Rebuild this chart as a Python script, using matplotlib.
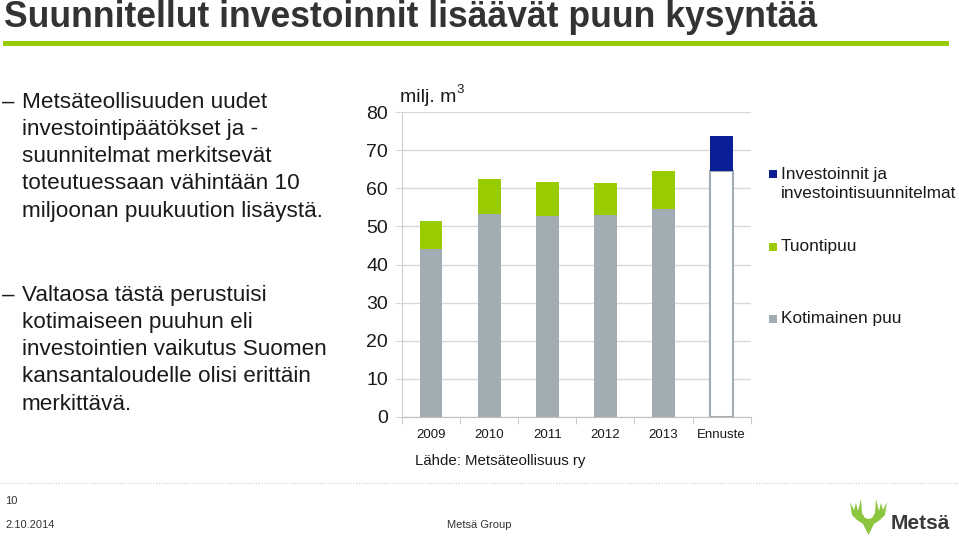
import numpy as np
import matplotlib
matplotlib.use("Agg")
from matplotlib import pyplot as plt
from matplotlib.patches import Rectangle, Polygon

plt.rcParams['font.family'] = ['Liberation Sans', 'DejaVu Sans']

# data (milj. m3)
categories = ['2009', '2010', '2011', '2012', '2013', 'Ennuste']
kotimainen = [44.1, 53.2, 52.7, 52.9, 54.5]
tuonti = [7.3, 9.4, 9.0, 8.6, 10.1]
ennuste_pohja = 64.6
investoinnit = 9.2
series_names = ['Investoinnit ja\ninvestointisuunnitelmat', 'Tuontipuu', 'Kotimainen puu']

c_gray = '#A2ACB3'
c_green = '#99CC00'
c_blue = '#0A1E96'
c_text = '#1a1a1a'

W, H = 959, 536
fig = plt.figure(figsize=(W / 100, H / 100), dpi=100)

def fx(px):
    return px / W

def fy(py):
    return 1 - py / H

# title + green bar
fig.text(fx(4), fy(27), 'Suunnitellut investoinnit lisäävät puun kysyntää',
         fontweight='bold', fontsize=25.6, color='#333333', va='baseline', ha='left')
fig.add_artist(Rectangle((fx(3), fy(46)), fx(946), 4.5 / H, color=c_green, lw=0))

# bullet texts
block1 = ['Metsäteollisuuden uudet', 'investointipäätökset ja -', 'suunnitelmat merkitsevät',
          'toteutuessaan vähintään 10', 'miljoonan puukuution lisäystä.']
block2 = ['Valtaosa tästä perustuisi', 'kotimaiseen puuhun eli', 'investointien vaikutus Suomen',
          'kansantaloudelle olisi erittäin', 'merkittävä.']
for start, lines in [(102, block1), (295, block2)]:
    fig.text(fx(2), fy(start), '–', fontsize=16, color=c_text, va='center', ha='left')
    for i, line in enumerate(lines):
        fig.text(fx(22), fy(start + i * 27.3), line, fontsize=16.2, color=c_text,
                 va='center', ha='left')

# chart
ax = fig.add_axes([fx(402), fy(416.7), fx(750.7 - 402), (416.7 - 112.3) / H])
x = np.arange(len(categories))
bw = 0.39
n = len(kotimainen)
ax.bar(x[:n], kotimainen, bw, color=c_gray, zorder=3)
ax.bar(x[:n], tuonti, bw, bottom=kotimainen, color=c_green, zorder=3)
ax.bar(x[n], ennuste_pohja, bw, color='white', edgecolor=c_gray, lw=1.5, zorder=3)
ax.bar(x[n], investoinnit, bw, bottom=ennuste_pohja, color=c_blue, zorder=3)

ax.set_xlim(-0.5, len(categories) - 0.5)
ax.set_ylim(0, 80)
ax.set_yticks(np.arange(0, 81, 10))
ax.yaxis.grid(True, color='#D9D9D9', lw=1, zorder=0)
ax.tick_params(axis='y', length=5, color='#D9D9D9', pad=5, labelsize=14, labelcolor=c_text)
ax.set_xticks(x)
ax.set_xticklabels(categories)
ax.tick_params(axis='x', which='major', length=0, pad=9, labelsize=9.5, labelcolor=c_text)
ax.set_xticks(np.arange(-0.5, len(categories), 1), minor=True)
ax.tick_params(axis='x', which='minor', length=5, color='#BFBFBF')
for s in ['top', 'right']:
    ax.spines[s].set_visible(False)
ax.spines['left'].set_color('#D0D0D0')
ax.spines['bottom'].set_color('#BFBFBF')

fig.text(fx(400), fy(97), 'milj. m', fontsize=14, color=c_text, va='center', ha='left')
fig.text(fx(456), fy(90), '3', fontsize=9.5, color=c_text, va='center', ha='left')
fig.text(fx(415), fy(461), 'Lähde: Metsäteollisuus ry', fontsize=10.8, color=c_text,
         va='center', ha='left')

# legend (drawn by hand to keep the wide spacing of the original)
leg_colors = [c_blue, c_green, c_gray]
leg_y = [174, 247, 319]
for name, col, ly in zip(series_names, leg_colors, leg_y):
    fig.add_artist(Rectangle((fx(769), fy(ly + 4)), 8 / W, 8 / H, color=col, lw=0))
    for k, part in enumerate(name.split('\n')):
        fig.text(fx(781), fy(ly + k * 20), part, fontsize=12.4, color=c_text,
                 va='center', ha='left')

# footer
fig.add_artist(plt.Line2D([0, 1], [fy(483), fy(483)], color='#C8C8C8', lw=0.8, ls=(0, (1, 1.5))))
fig.text(fx(5), fy(501), '10', fontsize=8, color='#333333', va='center', ha='left')
fig.text(fx(5), fy(525), '2.10.2014', fontsize=8, color='#333333', va='center', ha='left')
fig.text(fx(447), fy(525), 'Metsä Group', fontsize=8, color='#333333', va='center', ha='left')

# logo
lax = fig.add_axes([fx(845), 0, fx(114), 44 / H])
lax.set_xlim(845, 959)
lax.set_ylim(536, 492)
lax.axis('off')
cx = 868.5
left_half = [(cx, 535), (866, 530), (863, 524), (857, 520), (852, 515), (850, 502),
             (854, 510), (856, 503), (858, 511), (861, 499), (862, 513), (865, 518), (cx, 519)]
right_half = [(2 * cx - px, py) for px, py in reversed(left_half[1:-1])]
lax.add_patch(Polygon(left_half + right_half, closed=True, color='#8CC63F', lw=0))
lax.text(891, 529, 'Metsä', fontsize=15, fontweight='bold', color='#3a3a3a',
         va='baseline', ha='left')

fig.savefig('out.png', dpi=100)
